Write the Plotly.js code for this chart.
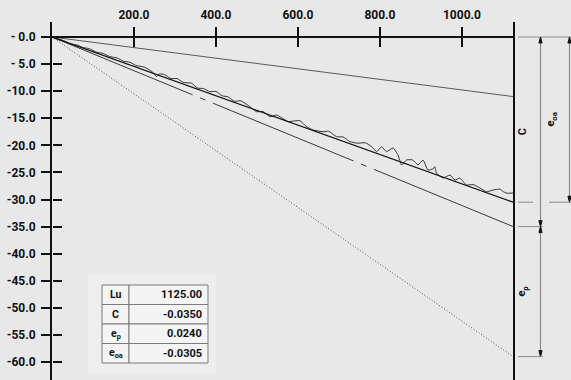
<!DOCTYPE html>
<html>
<head>
<meta charset="utf-8">
<script src="https://cdn.plot.ly/plotly-3.0.1.min.js"></script>
<style>html,body{margin:0;padding:0;background:#e8e8e8;}#chart{width:571px;height:380px;}</style>
</head>
<body>
<div id="chart"></div>
<script>
// ---- data ----
const Lu = 1125.00;
const C = -0.0350;
const ep = 0.0240;
const eoa = -0.0305;

const xTickVals = [200, 400, 600, 800, 1000];
const xTickText = ['200.0', '400.0', '600.0', '800.0', '1000.0'];
const yTickVals = [0, -5, -10, -15, -20, -25, -30, -35, -40, -45, -50, -55, -60];
const yTickText = ['- 0.0', '- 5.0', '-10.0', '-15.0', '-20.0', '-25.0', '-30.0', '-35.0', '-40.0', '-45.0', '-50.0', '-55.0', '-60.0'];

const measX = [0, 15, 30, 45, 60, 75, 90, 110, 125, 140, 160, 175, 190, 205, 225, 245, 255, 262, 275, 290,
  305, 320, 340, 355, 370, 385, 400, 415, 430, 445, 460, 480, 499, 515, 532, 548, 576, 590, 605, 620,
  637, 661, 675, 694, 710, 727, 745, 765, 780, 792, 804, 816, 832, 844, 853, 865, 880, 893, 905, 917,
  930, 934, 938, 954, 971, 983, 995, 1011, 1027, 1044, 1060, 1076, 1093, 1100, 1109, 1125];
const measY = [0, -0.36, -0.71, -1.27, -1.43, -1.93, -2.14, -2.83, -3.04, -3.60, -3.89, -4.49, -4.65, -5.26, -5.55, -6.44, -7.31, -6.80, -6.96, -7.66,
  -7.67, -8.38, -8.52, -9.42, -9.53, -10.09, -10.04, -10.85, -11.06, -11.86, -11.77, -12.71, -13.79, -13.76, -14.72, -14.40, -15.62, -15.50, -15.46, -16.51,
  -17.17, -17.48, -17.40, -18.40, -18.45, -19.32, -19.60, -19.54, -20.25, -21.17, -20.25, -21.16, -20.49, -21.78, -23.63, -22.69, -22.70, -23.62, -22.71, -24.55,
  -24.31, -23.94, -25.15, -26.03, -25.48, -26.41, -26.04, -27.32, -27.24, -27.88, -28.57, -28.25, -28.08, -28.52, -28.83, -28.80];

const tableLabels = ['Lu', 'C', 'e<sub>p</sub>', 'e<sub>oa</sub>'];
const tableValues = ['1125.00', '-0.0350', '0.0240', '-0.0305'];

// ---- geometry helpers (layout only) ----
const W = 571, H = 380, ML = 52, MR = 57, MT = 22, MB = 0;
const PW = W - ML - MR, PH = H - MT - MB;
const X0 = 0, X1 = 1127;
const YMAX = 2.77, YMIN = -63.32;
const pxX = px => (px - ML) / PW;          // pixel x -> paper x
const pxY = py => (H - MB - py) / PH;      // pixel y -> paper y
const yPerPx = (YMAX - YMIN) / PH;

const kC = C * 1000, kEp = ep * 1000, kEoa = eoa * 1000;

const traces = [
  {x: [0, Lu], y: [0, kC + kEp], mode: 'lines', line: {color: '#5a5a5a', width: 1}, hoverinfo: 'skip'},
  {x: [0, Lu], y: [0, kC - kEp], mode: 'lines', line: {color: '#555', width: 1, dash: '1px,2px'}, hoverinfo: 'skip'},
  {x: [0, Lu], y: [0, kC], mode: 'lines', line: {color: '#3a3a3a', width: 1, dash: '152px,8px,6px,8px'}, hoverinfo: 'skip'},
  {x: measX, y: measY, mode: 'lines', line: {color: '#333', width: 1, shape: 'spline', smoothing: 0.5}, hoverinfo: 'skip'},
  {x: [0, Lu], y: [0, kEoa], mode: 'lines', line: {color: '#111', width: 1.3}, hoverinfo: 'skip'},
  {x: [0], y: [0], xaxis: 'x2', yaxis: 'y2', mode: 'markers', marker: {opacity: 0}, hoverinfo: 'skip'}
];

const gray = '#8a8a8a';
const shapes = [];
const annotations = [];
function hline(yv, p0, p1, color) {
  shapes.push({type: 'line', xref: 'paper', yref: 'y', x0: pxX(p0), x1: pxX(p1), y0: yv, y1: yv, line: {color: color || gray, width: 1}});
}
function vline(px, y0, y1) {
  shapes.push({type: 'line', xref: 'paper', yref: 'y', x0: pxX(px), x1: pxX(px), y0: y0, y1: y1, line: {color: gray, width: 1.2}});
}
function arrow(px, yv, dir) { // dir +1 pointing up, -1 pointing down
  const hw = 1.6 / PW, len = 6 * yPerPx;
  const xl = pxX(px) - hw, xr = pxX(px) + hw, xc = pxX(px);
  const yb = yv - dir * len;
  shapes.push({type: 'path', xref: 'paper', yref: 'y', path: `M${xl},${yb} L${xc},${yv} L${xr},${yb} Z`, fillcolor: '#111', line: {color: '#111', width: 1}});
}

// right side frame line
shapes.push({type: 'line', xref: 'paper', yref: 'paper', x0: 1, x1: 1, y0: 0, y1: 1, line: {color: '#111', width: 2}});

// dimension lines
const xC = 540.5, xE = 569.5;
hline(0, 518, 571);
vline(xC, 0, kC); arrow(xC, 0, 1); arrow(xC, kC, -1);
vline(xE, 0, kEoa); arrow(xE, 0, 1); arrow(xE, kEoa, -1);
hline(kEoa, 518, 533); hline(kEoa, 549, 571);
hline(kC, 518, 543);
vline(xC, kC, kC - kEp); arrow(xC, kC, 1); arrow(xC, kC - kEp, -1);
hline(kC - kEp, 518, 543);

const labFont = {family: 'Roboto, "DejaVu Sans", sans-serif', size: 11, color: '#111', weight: 'bold'};
annotations.push({xref: 'paper', yref: 'y', x: pxX(531), y: kC / 2, text: 'C', showarrow: false, textangle: -90, font: labFont});
annotations.push({xref: 'paper', yref: 'y', x: pxX(560), y: kEoa / 2, text: 'e<sub>oa</sub>', showarrow: false, textangle: -90, font: labFont});
annotations.push({xref: 'paper', yref: 'y', x: pxX(531), y: kC - kEp / 2, text: 'e<sub>p</sub>', showarrow: false, textangle: -90, font: labFont});

// table
const tL = 102, tM = 129, tR = 208, tT = 285, rowH = 19.5;
shapes.push({type: 'rect', xref: 'paper', yref: 'paper', x0: pxX(88), x1: pxX(216), y0: pxY(374), y1: pxY(274), fillcolor: '#eeeeee', line: {width: 0}, layer: 'below'});
tableLabels.forEach((lab, i) => {
  const top = tT + i * rowH, bot = top + rowH;
  shapes.push({type: 'rect', xref: 'paper', yref: 'paper', x0: pxX(tL), x1: pxX(tM), y0: pxY(bot), y1: pxY(top), fillcolor: '#f4f4f4', line: {color: '#7a7a7a', width: 1}});
  shapes.push({type: 'rect', xref: 'paper', yref: 'paper', x0: pxX(tM), x1: pxX(tR), y0: pxY(bot), y1: pxY(top), fillcolor: '#f4f4f4', line: {color: '#7a7a7a', width: 1}});
  annotations.push({xref: 'paper', yref: 'paper', x: pxX((tL + tM) / 2), y: pxY(top + rowH / 2), text: lab, showarrow: false, xanchor: 'center', yanchor: 'middle', font: {family: 'Roboto, sans-serif', size: 10.5, color: '#111', weight: 'bold'}});
  annotations.push({xref: 'paper', yref: 'paper', x: pxX(tR - 4), y: pxY(top + rowH / 2), text: tableValues[i], showarrow: false, xanchor: 'right', yanchor: 'middle', font: {family: 'Roboto, sans-serif', size: 11, color: '#111', weight: 'bold'}});
});

const tickFont = {family: 'Roboto, sans-serif', size: 12, color: '#111', weight: 'bold'};
const xPos = pxY(37);
const layout = {
  width: W, height: H,
  margin: {l: ML, r: MR, t: MT, b: MB, pad: 0},
  paper_bgcolor: '#e8e8e8', plot_bgcolor: '#e8e8e8',
  showlegend: false,
  xaxis: {range: [X0, X1], side: 'top', anchor: 'free', position: xPos, showline: true, linewidth: 2, linecolor: '#111',
    ticks: 'outside', ticklen: 9, tickwidth: 2, tickcolor: '#111', tickvals: xTickVals, ticktext: xTickText,
    tickfont: tickFont, ticklabelstandoff: 3, showgrid: false, zeroline: false, fixedrange: true},
  xaxis2: {range: [X0, X1], overlaying: 'x', side: 'bottom', anchor: 'free', position: xPos, showline: false,
    ticks: 'outside', ticklen: 9, tickwidth: 2, tickcolor: '#111', tickvals: xTickVals, showticklabels: false, showgrid: false, zeroline: false},
  yaxis: {range: [YMIN, YMAX], showline: true, linewidth: 2, linecolor: '#111', ticks: 'outside', ticklen: 9, tickwidth: 2, tickcolor: '#111',
    tickvals: yTickVals, ticktext: yTickText, tickfont: tickFont, ticklabelstandoff: 3, showgrid: false, zeroline: false, fixedrange: true},
  yaxis2: {range: [YMIN, YMAX], overlaying: 'y', side: 'right', anchor: 'free', position: 0, showline: false,
    ticks: 'outside', ticklen: 9, tickwidth: 2, tickcolor: '#111', tickvals: yTickVals, showticklabels: false, showgrid: false, zeroline: false},
  shapes: shapes,
  annotations: annotations
};

Plotly.newPlot('chart', traces, layout, {staticPlot: true, displayModeBar: false});
</script>
</body>
</html>
